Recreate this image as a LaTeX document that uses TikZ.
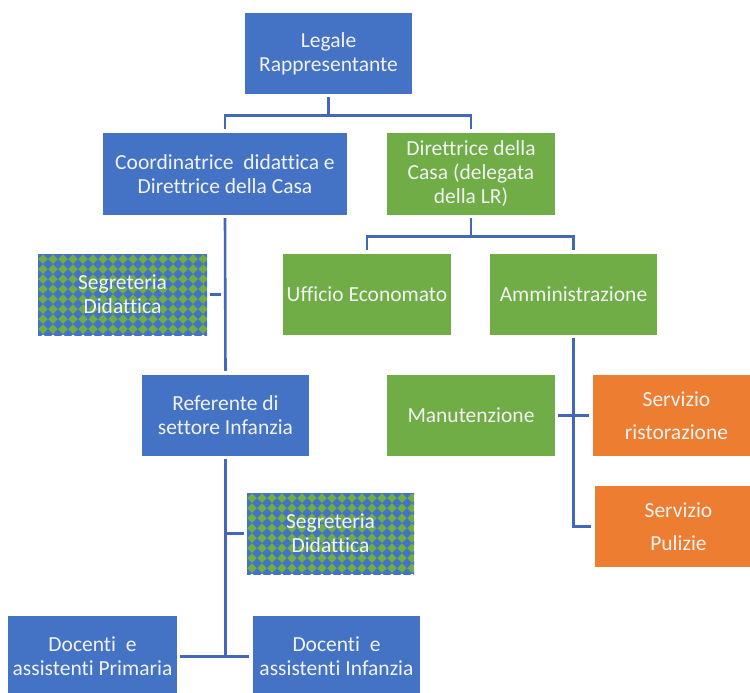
\documentclass[tikz,border=0pt]{standalone}
\usepackage{fontspec}
\setmainfont{Carlito}[Ligatures=NoCommon]
\definecolor{cblue}{HTML}{4472C4}
\definecolor{cgreen}{HTML}{70AD47}
\definecolor{corange}{HTML}{ED7D31}
\definecolor{cline}{HTML}{4468B8}
\definecolor{ctext}{HTML}{F2F2F2}
\begin{document}
\begin{tikzpicture}[x=1pt,y=-1pt,
  box/.style={rectangle, inner sep=0pt, minimum width=168pt, minimum height=81pt,
    text=ctext, align=center, font=\fontsize{21.5}{24}\selectfont},
  bluebox/.style={box, fill=cblue},
  greenbox/.style={box, fill=cgreen},
  orangebox/.style={box, fill=corange, font=\fontsize{21.5}{33}\selectfont},
  checker/.style={box, path picture={
    \fill[cgreen] (path picture bounding box.south west) rectangle (path picture bounding box.north east);
    \path (path picture bounding box.north west) coordinate (pw);
    \foreach \i in {0,...,18} {\foreach \j in {0,...,9} {
      \fill[cblue] (pw) ++(10*\i-5,10*\j) -- ++(5,-5) -- ++(5,5) -- ++(-5,5) -- cycle;
    }}
  }},
  conn/.style={draw=cline, line width=2.6pt, shorten <=3pt, shorten >=4pt}
]
\useasboundingbox (0,0) rectangle (750,693);
\node[bluebox, minimum width=167pt] (legal) at (328.5,53.5) {Legale\\Rappresentante};
\node[bluebox, minimum width=244pt, minimum height=82pt] (coord) at (225,174) {Coordinatrice~ didattica e\\Direttrice della Casa};
\node[greenbox, minimum height=82pt] (dir) at (471,174) {Direttrice della\\Casa (delegata\\della LR)};
\node[greenbox] (uff) at (367,294.5) {Ufficio Economato};
\node[greenbox, minimum width=167pt] (amm) at (573.5,294.5) {Amministrazione};
\node[checker, minimum width=169pt] (seg1) at (122.5,294.5) {Segreteria\\Didattica};
\node[bluebox, minimum width=167pt] (ref) at (225.5,415.5) {Referente di\\settore Infanzia};
\node[checker, minimum width=167pt] (seg2) at (330.5,533.5) {Segreteria\\Didattica};
\node[greenbox] (man) at (471,415.5) {Manutenzione};
\node[orangebox, minimum width=167pt] (ris) at (676.5,415.5) {Servizio\\ristorazione};
\node[orangebox, minimum width=167pt] (pul) at (678.5,526.5) {Servizio\\Pulizie};
\node[bluebox, minimum width=169pt] (docP) at (92.5,656.5) {Docenti~ e\\assistenti Primaria};
\node[bluebox, minimum width=167pt] (docI) at (336.5,656.5) {Docenti~ e\\assistenti Infanzia};

\draw[conn] (legal.south) -- ++(0,21) -| (coord.north);
\draw[conn] (legal.south) -- ++(0,21) -| (dir.north);
\draw[conn] (coord.south) -- (ref.north);
\draw[conn] (seg1.east) -- (seg1.east -| coord.south);
\draw[conn, shorten >=0pt] (ref.south) -- (ref.south |- docP.east);
\draw[conn] (docP.east) -- (docI.west);
\draw[conn, shorten >=0pt] (seg2.west) -- (seg2.west -| ref.south);
\draw[conn] (dir.south) -- ++(0,21) -| (uff.north);
\draw[conn] (dir.south) -- ++(0,21) -| (amm.north);
\draw[conn] (amm.south) |- (pul.west);
\draw[conn] (man.east) -- (ris.west);
\end{tikzpicture}
\end{document}
